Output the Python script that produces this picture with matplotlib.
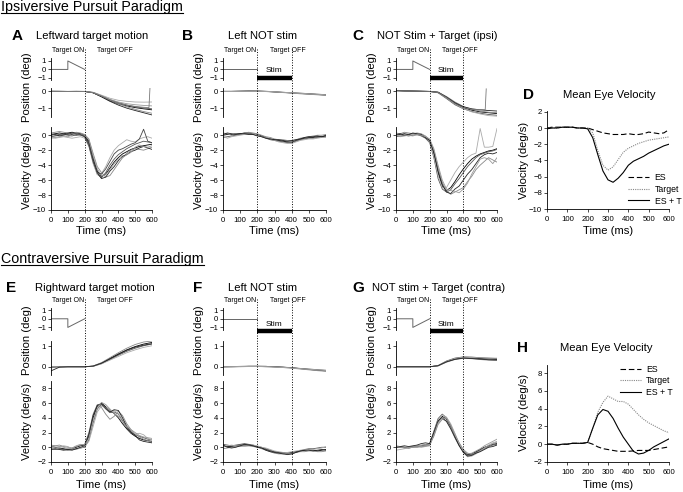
import matplotlib
matplotlib.use('Agg')
import matplotlib.pyplot as plt
from matplotlib.lines import Line2D
from matplotlib.transforms import blended_transform_factory

plt.rcParams['font.family'] = ['Liberation Sans', 'DejaVu Sans']

# ---- dane ----
time_ms = list(range(0, 601, 25))
pos_time_ms = list(range(0, 601, 50))

# pozycja celu w okienku "Target ON"
target_t = [0, 100, 100, 200]
target_left = [0, 0, 1, 0]
target_right = [0, 0, -1, 0]
target_none_t = [0, 200]
target_none = [0, 0]

# A - Leftward target motion
a_pos = [
    [0.0, 0.0, 0.0, 0.0, 0.0, -0.08, -0.30, -0.55, -0.72, -0.85, -0.95, -1.02, -1.08],
    [0.02, 0.01, 0.0, 0.01, 0.0, -0.06, -0.25, -0.48, -0.66, -0.80, -0.90, -0.97, -1.02],
    [0.0, 0.0, -0.01, 0.0, -0.01, -0.07, -0.28, -0.52, -0.72, -0.90, -1.05, -1.18, -1.28],
    [0.01, 0.0, 0.0, 0.0, 0.0, -0.05, -0.22, -0.40, -0.52, -0.58, -0.62, -0.63, -0.62],
    [0.0, 0.0, 0.0, -0.01, 0.0, -0.08, -0.32, -0.58, -0.80, -0.98, -1.12, -1.25, -1.38],
    [0.0, 0.01, 0.0, 0.0, 0.0, -0.06, -0.26, -0.47, -0.62, -0.72, -0.78, -0.82, -0.85],
]
a_sacc_t = [0, 50, 100, 150, 200, 250, 300, 350, 400, 450, 500, 550, 582, 588]
a_sacc_pos = [0.0, 0.0, 0.0, 0.0, 0.0, -0.07, -0.27, -0.50, -0.68, -0.80, -0.88, -0.93, -0.95, 0.22]
a_vel = [
    [0.1, 0.2, 0.3, 0.2, 0.3, 0.4, 0.3, 0.2, 0.0, -0.8, -3.0, -4.8, -5.5, -5.2, -4.4, -3.6, -3.0, -2.5, -2.2, -1.9, -1.7, -1.5, -1.4, -1.3, -1.2],
    [-0.2, -0.1, 0.0, 0.1, 0.0, -0.1, 0.1, 0.0, -0.2, -1.2, -3.6, -5.2, -5.7, -5.0, -4.0, -3.2, -2.6, -2.2, -1.8, -1.5, -1.2, -1.0, -0.8, -0.9, -1.0],
    [0.3, 0.4, 0.5, 0.4, 0.3, 0.2, 0.4, 0.3, 0.1, -0.5, -2.4, -4.2, -5.0, -5.6, -5.4, -4.6, -3.8, -3.0, -2.4, -2.0, -1.8, -1.9, -2.0, -1.8, -1.6],
    [-0.3, -0.4, -0.3, -0.2, -0.3, -0.4, -0.3, -0.2, -0.4, -1.5, -3.8, -5.3, -5.1, -4.2, -3.0, -2.0, -1.4, -1.0, -0.6, -0.8, -0.9, -0.5, -0.3, -0.2, -0.4],
    [0.0, 0.1, -0.1, 0.0, 0.2, 0.1, 0.0, 0.1, -0.1, -1.0, -3.2, -5.0, -5.8, -5.6, -4.8, -4.2, -3.4, -2.8, -2.6, -2.2, -2.0, -1.7, -1.5, -1.7, -1.9],
    [-0.4, -0.3, -0.2, -0.1, -0.2, 0.0, 0.2, 0.1, 0.0, -0.6, -2.8, -4.5, -5.4, -5.3, -4.6, -3.8, -3.2, -3.0, -2.6, -2.3, -1.6, -1.3, -1.5, -1.6, -1.4],
    [0.2, 0.0, 0.1, 0.2, 0.1, 0.3, 0.2, 0.1, -0.2, -1.4, -3.5, -5.0, -5.2, -4.5, -3.5, -2.5, -2.0, -1.8, -1.5, -1.2, -1.0, -0.5, 0.8, -0.8, -1.0],
]

# B - Left NOT stim
b_pos = [
    [0.0, 0.0, 0.01, 0.02, 0.02, 0.0, -0.03, -0.06, -0.09, -0.12, -0.15, -0.18, -0.21],
    [0.01, 0.01, 0.02, 0.03, 0.02, 0.01, -0.02, -0.05, -0.08, -0.10, -0.13, -0.16, -0.19],
    [-0.01, 0.0, 0.0, 0.01, 0.01, -0.01, -0.04, -0.07, -0.10, -0.14, -0.17, -0.20, -0.24],
    [0.0, 0.0, 0.01, 0.01, 0.01, 0.0, -0.02, -0.05, -0.08, -0.11, -0.14, -0.17, -0.20],
]
b_vel = [
    [0.0, 0.1, 0.1, 0.2, 0.2, 0.3, 0.3, 0.2, 0.1, -0.1, -0.3, -0.5, -0.6, -0.7, -0.8, -0.9, -0.9, -0.7, -0.5, -0.4, -0.3, -0.3, -0.2, -0.2, -0.1],
    [-0.3, -0.2, -0.1, 0.0, 0.1, 0.2, 0.2, 0.1, 0.0, -0.2, -0.4, -0.6, -0.7, -0.8, -0.9, -1.0, -1.0, -0.8, -0.6, -0.5, -0.4, -0.4, -0.3, -0.3, -0.2],
    [0.3, 0.2, 0.0, 0.2, 0.1, 0.3, 0.4, 0.3, 0.2, 0.0, -0.2, -0.3, -0.5, -0.6, -0.6, -0.7, -0.8, -0.6, -0.4, -0.3, -0.2, -0.1, 0.0, 0.0, 0.1],
    [-0.1, -0.4, -0.2, -0.1, 0.0, 0.1, 0.1, 0.2, 0.0, -0.2, -0.3, -0.5, -0.7, -0.9, -1.0, -1.1, -1.1, -0.9, -0.7, -0.6, -0.5, -0.5, -0.4, -0.3, -0.3],
    [0.1, 0.3, 0.2, 0.1, 0.2, 0.2, 0.1, 0.1, -0.1, -0.2, -0.4, -0.5, -0.6, -0.6, -0.7, -0.8, -0.7, -0.6, -0.5, -0.3, -0.2, -0.2, -0.1, -0.2, 0.0],
]

# C - NOT Stim + Target (ipsi)
c_pos = [
    [0.05, 0.03, 0.02, 0.01, 0.0, -0.05, -0.35, -0.70, -0.95, -1.10, -1.20, -1.25, -1.30],
    [0.04, 0.02, 0.01, 0.0, -0.01, -0.08, -0.42, -0.78, -1.02, -1.18, -1.28, -1.35, -1.40],
    [0.06, 0.04, 0.02, 0.01, 0.0, -0.04, -0.30, -0.62, -0.88, -1.05, -1.15, -1.22, -1.25],
    [0.03, 0.02, 0.01, 0.0, -0.01, -0.06, -0.38, -0.74, -1.00, -1.20, -1.32, -1.42, -1.45],
    [0.05, 0.03, 0.02, 0.01, 0.0, -0.05, -0.33, -0.66, -0.90, -1.02, -1.08, -1.12, -1.15],
]
c_sacc_t = [0, 50, 100, 150, 200, 250, 300, 350, 400, 450, 500, 530, 536]
c_sacc_pos = [0.04, 0.03, 0.02, 0.01, 0.0, -0.06, -0.36, -0.72, -0.95, -1.05, -1.06, -1.08, 0.15]
c_vel = [
    [0.0, 0.1, 0.2, 0.1, 0.2, 0.1, 0.0, -0.3, -0.8, -2.5, -5.0, -6.8, -7.4, -7.0, -6.2, -5.3, -4.5, -3.8, -3.2, -2.8, -2.5, -2.3, -2.1, -2.0, -1.8],
    [-0.2, -0.1, 0.0, -0.1, 0.0, 0.1, -0.1, -0.4, -1.0, -3.0, -5.8, -7.2, -7.6, -7.3, -6.5, -5.8, -5.0, -4.2, -3.6, -3.0, -2.6, -2.4, -2.2, -2.1, -1.9],
    [0.3, 0.2, 0.4, 0.3, 0.2, 0.3, 0.2, -0.1, -0.6, -2.0, -4.4, -6.3, -7.5, -7.9, -7.6, -7.3, -7.0, -6.2, -5.5, -4.6, -4.0, -3.5, -3.0, -3.3, -3.6],
    [-0.1, 0.0, 0.1, 0.2, 0.1, 0.0, 0.1, -0.2, -0.9, -2.8, -5.4, -7.0, -7.0, -6.0, -5.0, -4.2, -3.6, -3.0, -2.6, -2.4, 0.9, -1.6, -1.6, -1.5, 0.9],
    [0.1, 0.2, 0.0, 0.1, 0.3, 0.2, 0.1, -0.3, -0.7, -2.3, -4.8, -6.6, -7.6, -7.8, -7.2, -6.8, -6.0, -5.2, -4.6, -3.8, -3.0, -2.6, -2.4, -2.5, -2.3],
    [0.0, -0.2, -0.1, 0.0, -0.1, 0.1, 0.0, -0.2, -0.5, -1.8, -4.0, -6.0, -7.2, -7.4, -7.5, -7.7, -7.2, -6.4, -5.2, -4.2, -3.2, -3.0, -3.2, -3.8, -3.0],
]

# D - Mean Eye Velocity (ipsi)
d_es = [0.0, 0.1, 0.1, 0.1, 0.1, 0.1, 0.0, 0.0, 0.0, -0.2, -0.4, -0.6, -0.7, -0.8, -0.8, -0.8, -0.7, -0.8, -0.8, -0.7, -0.5, -0.6, -0.7, -0.6, -0.2]
d_target = [0.0, 0.0, 0.0, 0.1, 0.1, 0.1, 0.0, 0.0, 0.0, -0.6, -2.8, -4.6, -5.2, -4.8, -3.9, -3.0, -2.5, -2.2, -1.9, -1.7, -1.5, -1.4, -1.3, -1.2, -1.1]
d_es_t = [-0.1, 0.0, 0.0, 0.1, 0.1, 0.1, 0.0, 0.0, -0.1, -1.2, -3.3, -5.3, -6.4, -6.7, -6.2, -5.5, -4.6, -4.1, -3.8, -3.5, -3.1, -2.8, -2.5, -2.2, -2.0]

# E - Rightward target motion
e_pos = [
    [0.0, 0.0, 0.0, 0.0, 0.0, 0.03, 0.18, 0.40, 0.62, 0.82, 0.98, 1.10, 1.18],
    [-0.05, 0.0, 0.0, 0.0, 0.0, 0.02, 0.15, 0.35, 0.56, 0.75, 0.90, 1.02, 1.10],
    [0.0, 0.0, 0.0, 0.0, 0.0, 0.04, 0.20, 0.44, 0.68, 0.90, 1.08, 1.20, 1.25],
    [0.0, -0.02, 0.0, 0.0, 0.0, 0.02, 0.14, 0.32, 0.50, 0.68, 0.82, 0.94, 1.02],
    [-0.2, -0.02, 0.0, 0.0, 0.0, 0.03, 0.17, 0.38, 0.60, 0.80, 0.95, 1.05, 1.12],
]
e_vel = [
    [0.1, 0.0, -0.1, -0.2, -0.3, -0.2, 0.0, 0.2, 0.3, 1.5, 4.0, 5.6, 6.0, 5.5, 5.0, 4.6, 4.0, 3.2, 2.5, 1.9, 1.5, 1.2, 1.0, 0.9, 0.8],
    [-0.2, -0.3, -0.2, -0.3, -0.4, -0.3, -0.2, -0.1, 0.0, 1.0, 3.3, 5.2, 5.8, 5.2, 4.7, 4.8, 4.5, 3.6, 2.7, 2.0, 1.7, 1.5, 1.3, 1.1, 1.0],
    [0.3, 0.2, 0.3, 0.1, 0.0, -0.1, 0.1, 0.3, 0.4, 2.0, 4.5, 5.8, 5.4, 4.5, 3.8, 4.2, 4.9, 4.3, 3.2, 2.4, 1.8, 1.4, 1.1, 0.9, 0.7],
    [0.0, -0.1, 0.0, 0.2, 0.1, -0.2, -0.3, -0.1, 0.1, 0.8, 2.8, 4.8, 5.6, 5.4, 5.0, 5.0, 4.6, 3.8, 3.0, 2.2, 1.8, 1.9, 1.7, 1.2, 1.0],
    [-0.3, -0.2, -0.3, -0.4, -0.3, -0.4, -0.2, 0.0, 0.2, 1.8, 4.3, 5.7, 5.9, 5.3, 4.8, 5.1, 5.0, 4.0, 2.8, 2.1, 1.6, 1.0, 0.8, 0.7, 0.6],
    [0.1, 0.2, 0.1, 0.0, -0.2, -0.1, 0.2, 0.4, 0.3, 1.2, 3.6, 5.3, 6.1, 5.8, 5.2, 4.6, 4.2, 3.4, 2.8, 2.4, 2.0, 1.6, 1.4, 1.3, 1.2],
]

# F - Left NOT stim (contra)
f_pos = [
    [0.0, 0.0, 0.01, 0.02, 0.02, 0.02, 0.0, -0.02, -0.05, -0.09, -0.13, -0.17, -0.20],
    [0.0, 0.01, 0.02, 0.03, 0.03, 0.02, 0.0, -0.02, -0.04, -0.08, -0.11, -0.14, -0.17],
    [-0.01, 0.0, 0.0, 0.01, 0.02, 0.0, -0.02, -0.04, -0.07, -0.11, -0.15, -0.19, -0.22],
    [0.0, 0.0, 0.01, 0.01, 0.01, 0.0, -0.01, -0.03, -0.06, -0.09, -0.12, -0.15, -0.18],
]
f_vel = [
    [0.2, 0.1, 0.1, 0.2, 0.3, 0.3, 0.3, 0.2, 0.1, -0.1, -0.3, -0.5, -0.6, -0.7, -0.7, -0.8, -0.7, -0.6, -0.5, -0.4, -0.3, -0.4, -0.5, -0.4, -0.3],
    [0.4, 0.3, 0.2, 0.3, 0.4, 0.5, 0.4, 0.3, 0.1, 0.0, -0.2, -0.4, -0.6, -0.7, -0.8, -0.9, -0.9, -0.7, -0.5, -0.3, -0.2, -0.2, -0.1, 0.0, 0.0],
    [-0.2, -0.1, 0.0, 0.1, 0.1, 0.2, 0.2, 0.1, 0.0, -0.2, -0.4, -0.6, -0.8, -0.9, -0.9, -0.8, -0.8, -0.7, -0.6, -0.6, -0.5, -0.5, -0.6, -0.6, -0.5],
    [0.0, 0.2, 0.3, 0.2, 0.2, 0.1, 0.2, 0.3, 0.2, 0.0, -0.1, -0.3, -0.5, -0.6, -0.7, -0.7, -0.6, -0.5, -0.4, -0.3, -0.3, -0.3, -0.2, -0.1, 0.1],
    [0.3, 0.0, -0.1, 0.0, 0.2, 0.4, 0.3, 0.2, 0.0, -0.1, -0.4, -0.6, -0.7, -0.8, -0.9, -1.0, -0.9, -0.7, -0.5, -0.4, -0.4, -0.5, -0.4, -0.3, -0.4],
]

# G - NOT stim + Target (contra)
g_pos = [
    [0.0, 0.0, 0.0, 0.0, 0.0, 0.05, 0.25, 0.38, 0.44, 0.43, 0.40, 0.38, 0.36],
    [0.0, 0.0, 0.0, 0.0, 0.0, 0.06, 0.28, 0.42, 0.48, 0.47, 0.44, 0.42, 0.40],
    [0.0, 0.0, 0.0, 0.0, 0.0, 0.04, 0.22, 0.35, 0.41, 0.39, 0.35, 0.32, 0.30],
    [0.0, 0.0, 0.0, 0.0, 0.0, 0.05, 0.26, 0.40, 0.46, 0.45, 0.43, 0.42, 0.42],
    [0.0, 0.0, 0.0, 0.0, 0.0, 0.05, 0.24, 0.36, 0.42, 0.40, 0.37, 0.34, 0.33],
]
g_vel = [
    [0.1, 0.0, 0.0, -0.1, 0.0, 0.1, 0.1, 0.2, 0.3, 1.8, 3.5, 4.2, 3.8, 2.8, 1.5, 0.3, -0.6, -1.0, -0.9, -0.6, -0.3, 0.0, 0.2, 0.4, 0.5],
    [-0.1, 0.1, 0.0, 0.0, 0.1, 0.0, 0.2, 0.3, 0.5, 2.2, 3.9, 4.5, 4.0, 3.0, 1.6, 0.4, -0.5, -1.1, -1.0, -0.7, -0.4, -0.1, 0.1, 0.3, 0.4],
    [0.2, 0.1, -0.1, 0.0, 0.1, 0.2, 0.3, 0.4, 0.4, 1.5, 3.1, 3.8, 3.6, 2.7, 1.6, 0.6, -0.3, -0.8, -0.9, -0.8, -0.5, -0.2, 0.1, 0.5, 0.7],
    [-0.4, -0.3, -0.2, -0.1, 0.0, 0.0, 0.1, 0.2, 0.3, 1.9, 3.7, 4.4, 4.1, 3.2, 1.9, 0.5, -0.7, -1.3, -1.2, -0.9, -0.5, -0.1, 0.3, 0.6, 0.8],
    [0.0, 0.1, 0.2, 0.1, 0.2, 0.3, 0.5, 0.6, 0.5, 2.0, 3.6, 4.0, 3.5, 2.5, 1.3, 0.2, -0.7, -1.2, -1.1, -0.8, -0.6, -0.3, 0.0, 0.1, 0.3],
    [0.1, 0.0, -0.1, -0.1, 0.0, 0.1, 0.0, 0.1, 0.2, 1.6, 3.3, 4.0, 3.9, 3.0, 1.8, 0.6, -0.4, -0.9, -0.8, -0.5, -0.2, 0.2, 0.5, 0.8, 1.1],
]

# H - Mean Eye Velocity (contra)
h_es = [0.0, 0.0, -0.1, 0.0, 0.0, 0.1, 0.1, 0.1, 0.2, 0.0, -0.3, -0.5, -0.6, -0.7, -0.8, -0.8, -0.8, -0.75, -0.7, -0.7, -0.7, -0.6, -0.5, -0.4, -0.3]
h_target = [0.0, 0.0, -0.1, 0.0, 0.0, 0.1, 0.1, 0.1, 0.2, 1.8, 3.6, 4.7, 5.4, 5.1, 4.8, 4.8, 4.5, 3.9, 3.3, 2.8, 2.4, 2.1, 1.8, 1.5, 1.3]
h_es_t = [0.0, 0.0, -0.1, 0.0, 0.0, 0.1, 0.1, 0.1, 0.2, 1.8, 3.3, 3.9, 3.7, 2.9, 1.8, 0.8, 0.0, -0.8, -1.1, -1.0, -0.7, -0.3, 0.0, 0.3, 0.6]

time_ticks = [0, 100, 200, 300, 400, 500, 600]
trace_colors = ['#000000', '#555555', '#888888', '#aaaaaa', '#222222', '#999999', '#444444']

# ---- uklad ----
W, H = 683, 492
fig = plt.figure(figsize=(W / 100, H / 100), dpi=100)

ROWS = {
    'top': dict(inset=(58, 80), pos=(88, 117), vel=(127, 210), text_y=51, line_top=49,
                bar_y=78, stim_y=70, time_y=231, pos_lab=87, vel_lab=170,
                inset_lim=(-1.25, 1.35), pos_lim=(-1.5, 0.2), pos_ticks=[0, -1],
                vel_lim=(-10, 1.1), vel_ticks=[0, -2, -4, -6, -8, -10]),
    'bottom': dict(inset=(308, 330), pos=(341, 375), vel=(381, 462), text_y=301, line_top=299,
                   bar_y=331, stim_y=324, time_y=485, pos_lab=340, vel_lab=421,
                   inset_lim=(-1.3, 1.25), pos_lim=(-0.4, 1.25), pos_ticks=[0, 1],
                   vel_lim=(-2, 9), vel_ticks=[-2, 0, 2, 4, 6, 8]),
}


def fy(y):
    return 1 - y / H


def px_axes(x0, y0, x1, y1):
    return fig.add_axes([x0 / W, 1 - y1 / H, (x1 - x0) / W, (y1 - y0) / H])


def style(ax, bottom=False):
    for s in ['top', 'right']:
        ax.spines[s].set_visible(False)
    ax.spines['left'].set_linewidth(0.6)
    ax.spines['bottom'].set_linewidth(0.6)
    ax.spines['bottom'].set_visible(bottom)
    ax.tick_params(labelsize=5.6, length=2, width=0.5, pad=1.5, direction='out')
    ax.set_xlim(0, 600)
    if not bottom:
        ax.set_xticks([])
    else:
        ax.set_xticks(time_ticks)
        ax.tick_params(axis='x', pad=3)


def trace_panel(x0, x1, row, tt, ty, pos, vel, pos_extra=None, stim=False):
    r = ROWS[row]
    ax_t = px_axes(x0, r['inset'][0], x1, r['inset'][1])
    style(ax_t)
    ax_t.plot(tt, ty, color='#666666', lw=0.7)
    ax_t.set_ylim(*r['inset_lim'])
    ax_t.set_yticks([1, 0, -1])

    ax_p = px_axes(x0, r['pos'][0], x1, r['pos'][1])
    style(ax_p)
    for i, tr in enumerate(pos):
        ax_p.plot(pos_time_ms, tr, color=trace_colors[i % len(trace_colors)], lw=0.6)
    if pos_extra:
        ax_p.plot(pos_extra[0], pos_extra[1], color='#777777', lw=0.6)
    ax_p.set_ylim(*r['pos_lim'])
    ax_p.set_yticks(r['pos_ticks'])

    ax_v = px_axes(x0, r['vel'][0], x1, r['vel'][1])
    style(ax_v, bottom=True)
    for i, tr in enumerate(vel):
        ax_v.plot(time_ms, tr, color=trace_colors[i % len(trace_colors)], lw=0.6)
    ax_v.set_ylim(*r['vel_lim'])
    ax_v.set_yticks(r['vel_ticks'])

    tr_b = blended_transform_factory(ax_v.transData, fig.transFigure)
    lines_at = [200, 400] if stim else [200]
    for xv in lines_at:
        fig.add_artist(Line2D([xv, xv], [fy(r['line_top']), fy(r['vel'][1])], transform=tr_b,
                              color='k', ls=':', lw=0.7))
    fig.text(100, fy(r['text_y']), 'Target ON', transform=tr_b, fontsize=5, ha='center', va='center')
    fig.text(380, fy(r['text_y']), 'Target OFF', transform=tr_b, fontsize=5, ha='center', va='center')
    if stim:
        fig.add_artist(Line2D([200, 400], [fy(r['bar_y']), fy(r['bar_y'])], transform=tr_b,
                              color='k', lw=3.2, solid_capstyle='butt'))
        fig.text(300, fy(r['stim_y']), 'Stim', transform=tr_b, fontsize=6, ha='center', va='center')

    xc = (x0 + x1) / 2
    fig.text(xc / W, fy(r['time_y']), 'Time (ms)', fontsize=8.1, ha='center', va='center')
    fig.text((x0 - 24) / W, fy(r['pos_lab']), 'Position (deg)', fontsize=8.1, rotation=90,
             ha='center', va='center')
    fig.text((x0 - 24) / W, fy(r['vel_lab']), 'Velocity (deg/s)', fontsize=8.1, rotation=90,
             ha='center', va='center')


def mean_panel(y0, y1, row, es, tgt, es_t, ylim, yticks, legend_loc, anchor, lab_y):
    ax = px_axes(547, y0, 669, y1)
    style(ax, bottom=True)
    ax.plot(time_ms, es, color='k', lw=0.8, ls=(0, (5, 2.5)), label='ES')
    ax.plot(time_ms, tgt, color='#888888', lw=0.8, ls=(0, (1, 1)), label='Target')
    ax.plot(time_ms, es_t, color='k', lw=0.8, label='ES + T')
    ax.set_ylim(*ylim)
    ax.set_yticks(yticks)
    ax.legend(loc=legend_loc, bbox_to_anchor=anchor, frameon=False, fontsize=6.3,
              handlelength=2.4, handletextpad=0.6, labelspacing=0.3, borderaxespad=0)
    fig.text(608 / W, fy(ROWS[row]['time_y']), 'Time (ms)', fontsize=8.1, ha='center', va='center')
    fig.text(524 / W, fy(lab_y), 'Velocity (deg/s)', fontsize=8.1, rotation=90,
             ha='center', va='center')


# naglowki
renderer = fig.canvas.get_renderer()
for txt, yb in [('Ipsiversive Pursuit Paradigm', 11), ('Contraversive Pursuit Paradigm', 263)]:
    t = fig.text(1 / W, fy(yb), txt, fontsize=10.3, va='baseline', ha='left')
    bb = t.get_window_extent(renderer)
    fig.add_artist(Line2D([bb.x0 / W, bb.x1 / W], [fy(yb + 2), fy(yb + 2)],
                          transform=fig.transFigure, color='k', lw=0.8))

# litery i tytuly paneli
panel_titles = [
    ('A', 12, 'Leftward target motion', 36, 36),
    ('B', 182, 'Left NOT stim', 228, 36),
    ('C', 352, 'NOT Stim + Target (ipsi)', 377, 36),
    ('D', 523, 'Mean Eye Velocity', 563, 95),
    ('E', 6, 'Rightward target motion', 35, 288),
    ('F', 193, 'Left NOT stim', 228, 288),
    ('G', 352, 'NOT stim + Target (contra)', 372, 288),
    ('H', 517, 'Mean Eye Velocity', 560, 348),
]
for letter, lx, title, tx, yy in panel_titles:
    fig.text(lx / W, fy(yy), letter, fontsize=11, fontweight='bold', ha='left', va='center')
    fig.text(tx / W, fy(yy), title, fontsize=8.1, ha='left', va='center')

trace_panel(51, 152, 'top', target_t, target_left, a_pos, a_vel, pos_extra=(a_sacc_t, a_sacc_pos))
trace_panel(223, 326, 'top', target_none_t, target_none, b_pos, b_vel, stim=True)
trace_panel(396, 497, 'top', target_t, target_left, c_pos, c_vel, pos_extra=(c_sacc_t, c_sacc_pos), stim=True)
mean_panel(111, 209, 'top', d_es, d_target, d_es_t, (-10, 2.1), [2, 0, -2, -4, -6, -8, -10],
           'lower right', (1.13, 0.0), 160)

trace_panel(51, 152, 'bottom', target_t, target_right, e_pos, e_vel)
trace_panel(223, 326, 'bottom', target_none_t, target_none, f_pos, f_vel, stim=True)
trace_panel(396, 497, 'bottom', target_t, target_right, g_pos, g_vel, stim=True)
mean_panel(365, 462, 'bottom', h_es, h_target, h_es_t, (-2, 8.9), [-2, 0, 2, 4, 6, 8],
           'upper right', (1.06, 1.04), 412)

fig.savefig('out.png', dpi=100)
